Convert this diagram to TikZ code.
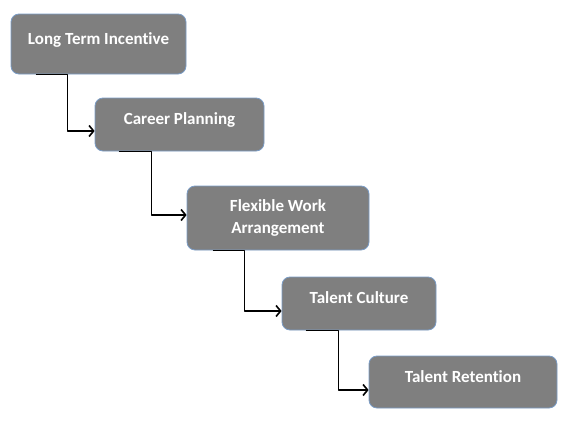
\documentclass[tikz,border=0pt]{standalone}
\usepackage{fontspec}
\setmainfont{Carlito}[Ligatures=NoCommon]
\usetikzlibrary{arrows.meta}

\definecolor{boxgray}{HTML}{7F7F7F}
\definecolor{boxedge}{HTML}{7A9CC6}

\tikzset{
  stepbox/.style={draw=boxedge,line width=0.8pt,fill=boxgray,rounded corners=8pt,
    text=white,font=\fontsize{17}{22}\selectfont\bfseries,align=center,
    text height=12pt,text depth=12pt,inner sep=0pt},
  twoline/.style={text height=,text depth=},
  link/.style={line width=1.6pt,-{Straight Barb[length=4.5pt,width=11pt,line width=1.6pt]}}
}

\begin{document}
\begin{tikzpicture}[line cap=round,line join=round,x=1pt,y=-1pt]
	\useasboundingbox (0,0) rectangle (571,431);
	\node[stepbox,minimum width=175,minimum height=60] (lti) at (98.5,44) {Long Term Incentive};
	\node[stepbox,minimum width=169,minimum height=53] (cp) at (179.5,124.5) {Career Planning};
	\node[stepbox,twoline,minimum width=182,minimum height=64] (fwa) at (278,218) {Flexible Work\\Arrangement};
	\node[stepbox,minimum width=154,minimum height=53] (tc) at (359,303.5) {Talent Culture};
	\node[stepbox,minimum width=188,minimum height=52] (tr) at (463,382) {Talent Retention};
	\draw[link] ([xshift=26]lti.south west) -- ([xshift=57]lti.south west) |- ([yshift=-6.5]cp.west);
	\draw[link] ([xshift=25]cp.south west) -- ([xshift=57]cp.south west) |- ([yshift=3]fwa.west);
	\draw[link] ([xshift=27]fwa.south west) -- ([xshift=58]fwa.south west) |- ([yshift=-7.5]tc.west);
	\draw[link] ([xshift=25]tc.south west) -- ([xshift=57]tc.south west) |- ([yshift=-8]tr.west);
\end{tikzpicture}
\end{document}
